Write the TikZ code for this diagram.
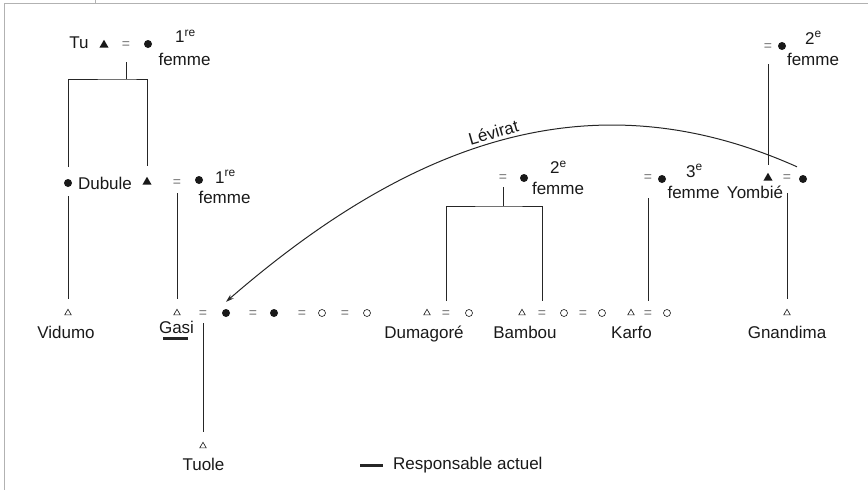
\documentclass[tikz,border=0pt]{standalone}
\usepackage{fontspec}
\setmainfont{Liberation Sans}
\usetikzlibrary{shapes.geometric,arrows.meta}

\tikzset{
    man/.style={regular polygon, regular polygon sides=3, fill=black!90, inner sep=0pt, minimum size=10.5pt},
    boy/.style={regular polygon, regular polygon sides=3, draw=black!90, line width=0.6pt, inner sep=0pt, minimum size=7.5pt},
    wife/.style={circle, fill=black!90, inner sep=0pt, minimum size=8pt},
    girl/.style={circle, draw=black!90, line width=0.6pt, inner sep=0pt, minimum size=7pt},
    eq/.style={text=black!55, inner sep=0pt, font=\fontsize{14}{14}\selectfont},
    txt/.style={anchor=base, inner sep=0pt, text=black!90, font=\fontsize{17}{20}\selectfont},
    rank/.style={txt, anchor=base west},
    link/.style={draw=black!85, line width=1pt},
    resp/.style={draw=black!85, line width=3pt},
}

\begin{document}
\begin{tikzpicture}[x=1pt, y=-1pt]
            \useasboundingbox (0, 0) rectangle (868, 490);
            \draw[gray!60, line width=0.8pt] (4, 490) -- (4, 3) -- (868, 3); %frame
            \draw[gray!60, line width=0.8pt] (95, 0) -- (95, 3);

            % Points
            \node [man] (tu) at (104, 45) {};
            \node [eq] (tuEq) at (126, 45) {=};
            \node [wife] (tuW) at (148, 44) {};

            \node [wife] (sis) at (68, 183) {};
            \node [man] (dub) at (147, 182) {};
            \node [eq] (dubEq) at (177, 183) {=};
            \node [wife] (dubW) at (199, 180) {};

            \node [eq] (trEq) at (768, 47) {=};
            \node [wife] (trW) at (782, 46) {};

            \node [eq] (secEq) at (503, 178) {=};
            \node [wife] (secW) at (524, 178) {};
            \node [eq] (thirdEq) at (648, 178) {=};
            \node [wife] (thirdW) at (662, 179) {};
            \node [man] (yom) at (768, 178) {};
            \node [eq] (yomEq) at (787, 178) {=};
            \node [wife] (yomW) at (803, 179) {};

            \node [boy] (vid) at (68, 313) {};
            \node [boy] (gasi) at (177, 313) {};
            \node [eq] (gEq1) at (203, 314) {=};
            \node [wife] (gW1) at (226, 313) {};
            \node [eq] (gEq2) at (253, 314) {=};
            \node [wife] (gW2) at (274, 313) {};
            \node [eq] (gEq3) at (302, 314) {=};
            \node [girl] (gW3) at (322, 313) {};
            \node [eq] (gEq4) at (345, 314) {=};
            \node [girl] (gW4) at (367, 313) {};

            \node [boy] (dum) at (427, 313) {};
            \node [eq] (dumEq) at (446, 314) {=};
            \node [girl] (dumW) at (469, 313) {};
            \node [boy] (bam) at (522, 313) {};
            \node [eq] (bamEq) at (542, 314) {=};
            \node [girl] (bamW1) at (564, 313) {};
            \node [eq] (bamEq2) at (583, 314) {=};
            \node [girl] (bamW2) at (602, 313) {};
            \node [boy] (kar) at (631, 313) {};
            \node [eq] (karEq) at (648, 314) {=};
            \node [girl] (karW) at (667, 313) {};
            \node [boy] (gna) at (787, 313) {};

            \node [boy] (tuole) at (203, 446) {};

            % Lines
            \coordinate (tuBar) at (126, 79);
            \coordinate (secBar) at (503, 206);
            \draw [link, shorten <=17pt] (tuEq.center) -- (tuBar);
            \draw [link, shorten <=16pt, shorten >=16pt] (sis.center) |- (tuBar) -| (dub.center); %Tu children
            \draw [link, shorten <=13pt, shorten >=14pt] (sis.center) -- (vid.center);
            \draw [link, shorten <=10pt, shorten >=14pt] (dubEq.center) -- (gasi.center);
            \draw [link, shorten <=9pt, shorten >=14pt] (gEq1.center) -- (tuole.center);
            \draw [link, shorten <=9pt] (secEq.center) -- (secBar);
            \draw [link, shorten <=13pt, shorten >=13pt] (dumEq.center) |- (secBar) -| (bamEq.center); %2e children
            \draw [link, shorten <=20pt, shorten >=13pt] (thirdEq.center) -- (karEq.center);
            \draw [link, shorten <=15pt, shorten >=14pt] (yomEq.center) -- (gna.center);
            \draw [link, shorten <=17pt, shorten >=13pt] (trEq.center) -- (yom.center);

            \draw [link, -{Stealth[length=8pt, width=5pt]}] ([xshift=-6pt, yshift=8pt]yomW.north)
                .. controls (596, 77) and (416, 137) .. ([yshift=7pt]gW1.north)
                node [txt, pos=0.52, sloped, above=3pt] (lev) {Lévirat}; %levirat

            % Letters
            \node [txt] (tuName) at (79, 48) {Tu};
            \node [rank] (tuRank) at (175, 42.5) {1\textsuperscript{re}};
            \node [txt] (tuFemme) at (184.5, 65) {femme};
            \node [txt] (dubName) at (105, 189) {Dubule};
            \node [rank] (dubRank) at (215, 183) {1\textsuperscript{re}};
            \node [txt] (dubFemme) at (224.5, 203) {femme};
            \node [rank] (secRank) at (550, 173.5) {2\textsuperscript{e}};
            \node [txt] (secFemme) at (558, 194) {femme};
            \node [rank] (thirdRank) at (686, 177) {3\textsuperscript{e}};
            \node [txt] (thirdFemme) at (693.5, 198) {femme};
            \node [txt] (yomName) at (755, 198) {Yombié};
            \node [rank] (trRank) at (805, 44) {2\textsuperscript{e}};
            \node [txt] (trFemme) at (813, 65) {femme};

            \node [txt] (vidName) at (66, 338) {Vidumo};
            \node [txt] (gasiName) at (176.5, 333) {Gasi};
            \node [txt] (dumName) at (424, 338) {Dumagoré};
            \node [txt] (bamName) at (525, 338) {Bambou};
            \node [txt] (karName) at (631.5, 338) {Karfo};
            \node [txt] (gnaName) at (787, 338) {Gnandima};
            \node [txt] (tuoleName) at (203.5, 470) {Tuole};

            % Responsable
            \draw [resp] (163, 338) -- (188, 338); %Gasi
            \draw [resp] (360, 465) -- (383, 465);
            \node [rank] (legend) at (393, 469) {Responsable actuel};

        \end{tikzpicture}
\end{document}
